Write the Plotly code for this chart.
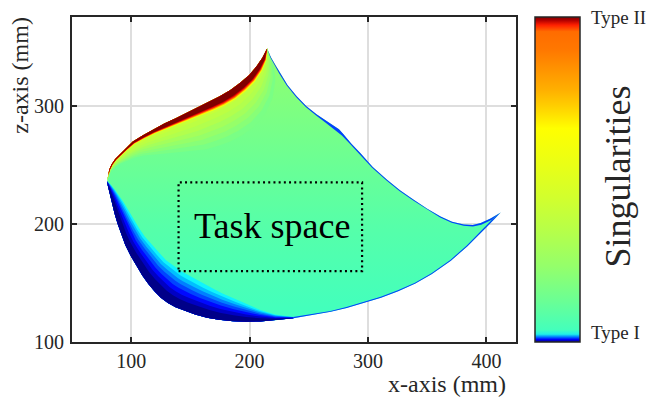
import numpy as np
import plotly.graph_objects as go

# ---------------- data (mm) ----------------
upper_left_x = [79.7, 80.3, 81.5, 83.5, 86.5, 90.1, 95.0, 101.4, 110.0, 118.3, 128.0, 138.1,
                148.0, 157.9, 166.5, 174.8, 183.5, 191.8, 199.5, 205.9, 210.8, 214.8]
upper_left_z = [236.0, 241.0, 246.0, 250.5, 254.8, 258.5, 263.7, 269.7, 275.0, 279.7, 284.8, 289.6,
                294.5, 299.4, 303.6, 307.9, 313.0, 319.2, 325.8, 333.3, 340.5, 348.3]

upper_right_x = [214.8, 218.0, 222.0, 225.7, 232.0, 239.8, 248.0, 256.8, 265.0, 271.5, 275.5, 279.3,
                 286.0, 293.5, 304.0, 316.1, 327.0, 338.6, 350.0, 361.3, 371.0, 381.0, 388.5, 395.2,
                 403.5, 412.1]
upper_right_z = [348.3, 341.0, 334.0, 327.7, 317.5, 307.9, 299.5, 292.4, 286.8, 283.0, 280.0, 275.8,
                 267.8, 259.9, 248.0, 237.3, 228.5, 220.3, 212.8, 206.2, 201.8, 199.5, 199.0, 200.6,
                 204.5, 209.6]

lower_right_x = [412.1, 406.0, 400.5, 392.0, 384.0, 370.0, 354.0, 340.0, 325.5, 311.0, 297.0, 282.0,
                 268.5, 252.0, 237.0]
lower_right_z = [209.6, 203.0, 197.5, 189.0, 181.0, 168.8, 157.5, 149.5, 143.0, 137.5, 133.0, 128.8,
                 125.5, 122.5, 120.0]

lower_left_x = [237.0, 222.0, 209.0, 197.0, 186.0, 174.0, 164.0, 154.0, 145.0, 137.5, 131.0, 125.0,
                120.0, 114.5, 109.5, 104.5, 99.5, 95.0, 91.5, 88.5, 86.0, 84.0, 82.3, 81.0, 80.2, 79.7]
lower_left_z = [120.0, 118.3, 117.4, 117.2, 117.5, 118.8, 120.6, 123.2, 126.2, 129.3, 133.0, 137.5,
                142.5, 149.0, 156.0, 164.5, 173.0, 182.0, 191.0, 200.0, 208.5, 216.0, 222.5, 228.0,
                232.5, 236.0]

# depth (mm) of singular regions measured inward from the edge
type2_depth = [0, 0.4, 0.7, 1.0, 1.2, 1.5, 1.9, 2.4, 3.0, 3.7, 4.6, 5.5, 6.5, 7.4, 8.2, 8.7, 8.7,
               8.2, 7.2, 5.8, 3.8, 0]
glow_depth = [0, 1, 2, 4, 6, 8, 11, 15, 19, 23, 27, 31, 35, 37, 38, 38, 37, 34, 28, 20, 11, 0]
type1_depth = [1.2, 5.0, 10.0, 15.0, 19.0, 22.5, 25.0, 27.0, 28.5, 29.0, 29.0, 28.5, 27.5, 26.0,
               24.0, 22.0, 20.0, 18.0, 16.0, 14.0, 12.0, 9.8, 7.5, 5.2, 2.8, 0.0]
upper_right_depth = [0, 0.5, 0.7, 0.8, 0.8, 0.8, 0.9, 1.0, 1.4, 2.2, 2.6, 1.8, 1.0, 0.8, 0.8, 0.8,
                     0.8, 0.8, 0.8, 0.9, 1.0, 1.1, 1.3, 1.5, 1.4, 0]
lower_right_depth = [0, 1.2, 1.2, 1.0, 0.9, 0.8, 0.8, 0.8, 0.8, 0.8, 0.8, 0.8, 0.8, 1.0, 1.2]

task_x = [140, 295, 295, 140, 140]
task_z = [160, 160, 235, 235, 160]

x_ticks = [100, 200, 300, 400]
z_ticks = [100, 200, 300]
cbar_levels = [0.03, 1.0]          # where the two singularity labels sit on the bar
cbar_labels = ["Type I", "Type II"]

# ---------------- styles ----------------
FONT = "Liberation Serif"
INK = "#262626"

main_scale = [[0.0, "#40ffbf"], [0.35, "#56ffa9"], [0.55, "#68ff97"], [0.8, "#80ff7f"], [1.0, "#92ff6d"]]
glow_layers = [(1.0, "#7aff85"), (0.87, "#88ff77"), (0.75, "#96ff69"), (0.63, "#a4ff5b"),
               (0.51, "#b2ff4d"), (0.39, "#bcff43"), (0.27, "#c6ff39"), (0.15, "#d0ff2f")]
type2_layers = [(1.0, "#ffff00"), (0.9, "#ffb400"), (0.83, "#ff6400"), (0.76, "#ff1400"),
                (0.69, "#c80000"), (0.62, "#800000")]
type1_layers = [(1.0, "#10f4fc"), (0.88, "#00c0ff"), (0.77, "#0080ff"), (0.66, "#0044ff"),
                (0.54, "#0008ff"), (0.41, "#0000c4"), (0.27, "#000088")]
cb_scale = [[0.0, "#000080"], [0.008, "#0000ff"], [0.016, "#0080ff"], [0.024, "#20f0e8"],
            [0.038, "#44ffbb"], [0.13, "#6cff93"], [0.232, "#94ff6b"], [0.335, "#b4ff4b"],
            [0.437, "#d0ff2f"], [0.54, "#e8ff17"], [0.657, "#ffff00"], [0.724, "#ffd000"],
            [0.775, "#ffb000"], [0.846, "#ff9000"], [0.898, "#ff7800"], [0.955, "#ff6c00"],
            [0.975, "#ff2000"], [0.99, "#b00000"], [1.0, "#800000"]]


def band(x, z, depth, frac, color):
    x = np.asarray(x, float)
    z = np.asarray(z, float)
    d = np.asarray(depth, float) * frac
    tx, tz = np.gradient(x), np.gradient(z)
    L = np.hypot(tx, tz)
    nx, nz = tz / L, -tx / L          # inward normal (boundary is clockwise)
    xi, zi = x + d * nx, z + d * nz
    return go.Scatter(x=np.concatenate([x, xi[::-1]]), y=np.concatenate([z, zi[::-1]]),
                      mode="lines", fill="toself", fillcolor=color, line=dict(width=0),
                      hoverinfo="skip", showlegend=False)


bx = upper_left_x + upper_right_x[1:] + lower_right_x[1:] + lower_left_x[1:]
bz = upper_left_z + upper_right_z[1:] + lower_right_z[1:] + lower_left_z[1:]

fig = go.Figure()
fig.add_trace(go.Scatter(x=bx, y=bz, mode="lines", fill="toself", line=dict(width=0),
                         fillgradient=dict(type="vertical", colorscale=main_scale,
                                           start=min(bz), stop=max(bz)),
                         hoverinfo="skip", showlegend=False))
for f, c in glow_layers:
    fig.add_trace(band(upper_left_x, upper_left_z, glow_depth, f, c))
for f, c in type1_layers:
    fig.add_trace(band(lower_left_x, lower_left_z, type1_depth, f, c))
for f, c in type2_layers:
    fig.add_trace(band(upper_left_x, upper_left_z, type2_depth, f, c))
fig.add_trace(band(upper_right_x, upper_right_z, upper_right_depth, 1.0, "#0040ff"))
fig.add_trace(band(lower_right_x, lower_right_z, lower_right_depth, 1.0, "#0040ff"))

fig.add_trace(go.Scatter(x=task_x, y=task_z, mode="lines",
                         line=dict(color="black", width=2.2, dash="2px,3.2px"),
                         hoverinfo="skip", showlegend=False))

# colorbar carrier
fig.add_trace(go.Scatter(x=[None, None], y=[None, None], mode="markers", showlegend=False,
                         marker=dict(color=[0, 1], cmin=0, cmax=1, colorscale=cb_scale,
                                     showscale=True,
                                     colorbar=dict(x=1.0428, xanchor="left", xpad=0, ypad=0,
                                                   y=0.5, yanchor="middle",
                                                   thickness=45, thicknessmode="pixels",
                                                   len=325, lenmode="pixels",
                                                   outlinewidth=1.5, outlinecolor=INK,
                                                   ticks="", showticklabels=False))))

for lvl, lab in zip(cbar_levels, cbar_labels):
    fig.add_annotation(x=1.1644, y=lvl, xref="paper", yref="paper", text=lab, showarrow=False,
                       xanchor="left", yanchor="middle",
                       font=dict(family=FONT, size=19, color=INK))

fig.add_annotation(x=218.5, y=198, xref="x", yref="y", text="Task space", showarrow=False,
                   font=dict(family=FONT, size=36, color="black"))
fig.add_annotation(x=0.9827, y=-0.13, xref="paper", yref="paper", text="x-axis (mm)",
                   showarrow=False, xanchor="right", yanchor="middle",
                   font=dict(family=FONT, size=24, color=INK))
fig.add_annotation(x=-0.119, y=1.006, xref="paper", yref="paper", text="z-axis (mm)",
                   showarrow=False, textangle=-90, xanchor="center", yanchor="top",
                   font=dict(family=FONT, size=24, color=INK))
fig.add_annotation(x=1.2297, y=0.509, xref="paper", yref="paper", text="Singularities",
                   showarrow=False, textangle=-90, xanchor="center", yanchor="middle",
                   font=dict(family=FONT, size=36, color=INK))

axis_common = dict(showline=True, linewidth=2, linecolor=INK, mirror="ticks",
                   ticks="inside", ticklen=5, tickwidth=2, tickcolor=INK,
                   showgrid=True, gridcolor="#dedede", gridwidth=2, zeroline=False,
                   tickfont=dict(family=FONT, size=20, color=INK))
fig.update_xaxes(range=[50, 425], tickvals=x_ticks, ticklabelstandoff=0, **axis_common)
fig.update_yaxes(range=[100, 375], tickvals=z_ticks, ticklabelstandoff=2, **axis_common)

# the page body has an 8px margin, so the figure is drawn 8px smaller with matching margins
fig.update_layout(width=648, height=393, autosize=False,
                  margin=dict(l=64, r=140, t=9, b=59, autoexpand=False),
                  plot_bgcolor="white", paper_bgcolor="white",
                  font=dict(family=FONT, color=INK))

fig.write_html("out.html")
